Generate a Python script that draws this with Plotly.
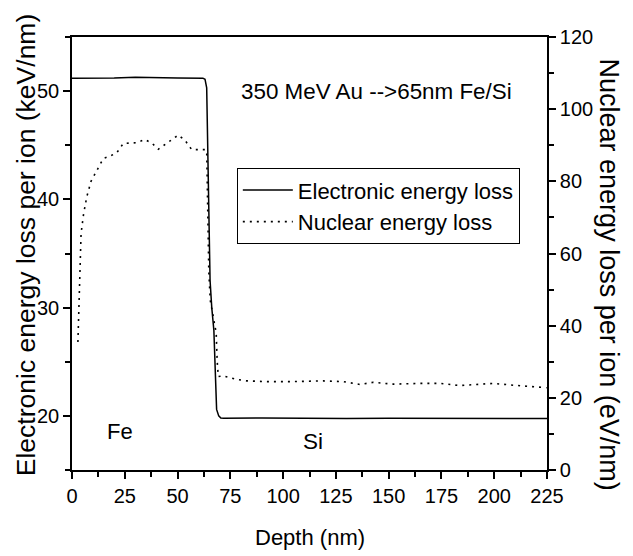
import plotly.graph_objects as go

# Electronic energy loss (keV/nm), left axis
elec_depth = [0, 10, 20, 30, 40, 50, 62, 63, 63.8, 64.6, 65.1, 65.4, 66.2, 67.2, 68.5, 69.5, 70.5, 72, 90, 110, 130, 150, 175, 200, 225]
elec_values = [51.2, 51.2, 51.22, 51.28, 51.22, 51.22, 51.2, 51.1, 50.3, 43.0, 36.9, 32.5, 30.0, 27.9, 20.6, 20.0, 19.8, 19.78, 19.8, 19.75, 19.75, 19.78, 19.75, 19.75, 19.75]

# Nuclear energy loss (eV/nm), right axis
nuc_depth = [2.8, 3.5, 4.3, 5.5, 7.0, 9.0, 11.7, 14.8, 18.0, 21.2, 24.3, 27.0, 30.6, 34.6, 38.0, 40.9, 44.8, 50.3,
             53.5, 56.7, 60.0, 63.0, 63.8, 64.3, 64.8, 65.5, 67.0, 68.3, 68.8, 69.3, 71.6, 77.9, 82.7, 92.2, 104.8,
             119.0, 128.5, 136.4, 142.7, 152.1, 165.0, 174.2, 183.7, 199.5, 209.0, 224.8]
nuc_values = [35.5, 50.0, 65.6, 71.0, 75.7, 80.0, 83.1, 86.3, 87.0, 87.9, 90.5, 90.6, 90.7, 91.6, 90.5, 88.9, 90.5, 92.8,
              91.4, 88.8, 88.8, 88.8, 88.5, 75.0, 55.0, 47.0, 42.0, 38.0, 30.0, 25.9, 26.1, 25.1, 24.7, 24.5, 24.5,
              24.7, 24.5, 23.7, 24.3, 23.8, 24.0, 24.0, 23.4, 24.0, 23.5, 22.8]

x_ticks = [0, 25, 50, 75, 100, 125, 150, 175, 200, 225]
y_left_ticks = [20, 30, 40, 50]
y_right_ticks = [0, 20, 40, 60, 80, 100, 120]

FONT = "Liberation Sans, Arial, sans-serif"

fig = go.Figure()
fig.add_trace(go.Scatter(x=elec_depth, y=elec_values, mode="lines", name="Electronic energy loss",
                         line=dict(color="black", width=1.5)))
fig.add_trace(go.Scatter(x=nuc_depth, y=nuc_values, mode="lines", name="Nuclear energy loss", yaxis="y2",
                         line=dict(color="black", width=1.6, dash="2px,5px")))

axis_common = dict(showgrid=False, zeroline=False, showline=True, linecolor="black", linewidth=1.6,
                   ticks="outside", ticklen=7, tickwidth=1.5, tickcolor="black",
                   tickfont=dict(family=FONT, size=20, color="black"))

fig.update_layout(
    width=625, height=548,
    margin=dict(l=64, r=86, t=29, b=86),
    paper_bgcolor="white", plot_bgcolor="white",
    font=dict(family=FONT, color="black"),
    showlegend=True,
    legend=dict(x=0.347, y=0.697, xanchor="left", yanchor="top", bgcolor="white",
                bordercolor="black", borderwidth=1, font=dict(family=FONT, size=22, color="black"),
                tracegroupgap=0, itemwidth=50),
    xaxis=dict(range=[0, 225], tickvals=x_ticks, mirror=True,
               minor=dict(dtick=12.5, tick0=0, ticks="outside", ticklen=5, tickwidth=1.5, tickcolor="black"),
               **axis_common),
    yaxis=dict(range=[15, 55], tickvals=y_left_ticks,
               minor=dict(dtick=5, tick0=15, ticks="outside", ticklen=5, tickwidth=1.5, tickcolor="black"),
               **axis_common),
    yaxis2=dict(range=[0, 120], tickvals=y_right_ticks, overlaying="y", side="right",
                minor=dict(dtick=10, tick0=0, ticks="outside", ticklen=5, tickwidth=1.5, tickcolor="black"),
                **axis_common),
    annotations=[
        dict(text="Depth (nm)", xref="paper", yref="paper", x=0.5, y=-0.157, xanchor="center", yanchor="middle",
             showarrow=False, font=dict(family=FONT, size=22, color="black")),
        dict(text="Electronic energy loss per ion (keV/nm)", xref="paper", yref="paper", x=-0.097, y=0.519,
             xanchor="center", yanchor="middle", textangle=-90, showarrow=False,
             font=dict(family=FONT, size=26.5, color="black")),
        dict(text="Nuclear energy loss per ion (eV/nm)", xref="paper", yref="paper", x=1.13, y=0.452,
             xanchor="center", yanchor="middle", textangle=90, showarrow=False,
             font=dict(family=FONT, size=27, color="black")),
        dict(text="350 MeV Au -->65nm Fe/Si", xref="x", yref="y", x=144, y=50.0, xanchor="center",
             yanchor="middle", showarrow=False, font=dict(family=FONT, size=22.4, color="black")),
        dict(text="Fe", xref="x", yref="y", x=22.7, y=18.6, xanchor="center", yanchor="middle",
             showarrow=False, font=dict(family=FONT, size=22, color="black")),
        dict(text="Si", xref="x", yref="y", x=114.1, y=17.6, xanchor="center", yanchor="middle",
             showarrow=False, font=dict(family=FONT, size=22.5, color="black")),
    ],
)

fig.write_html("out.html")
